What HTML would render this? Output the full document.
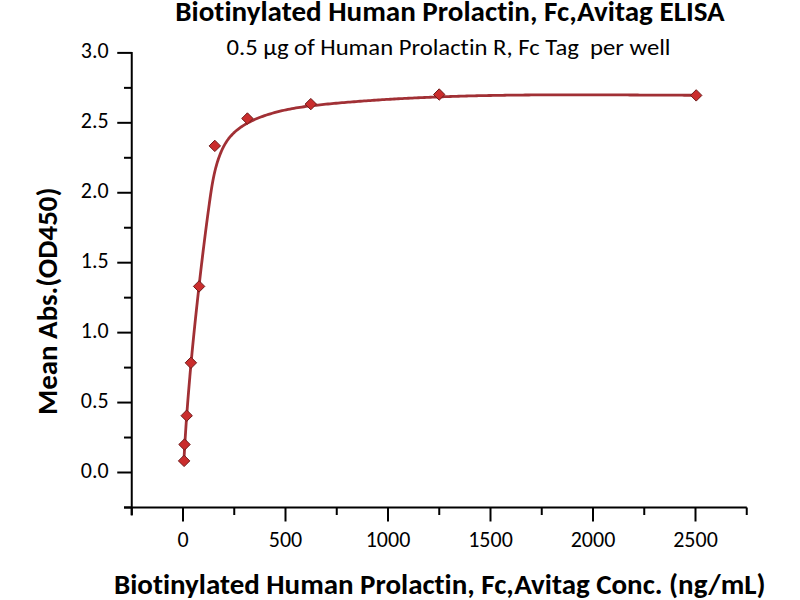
<!DOCTYPE html>
<html><head><meta charset="utf-8"><style>
html,body{margin:0;padding:0;background:#fff;width:800px;height:600px;overflow:hidden}
svg{display:block}
text{font-family:Carlito,"Liberation Sans",sans-serif;fill:#000;font-variant-ligatures:none;font-feature-settings:"liga" 0,"clig" 0;white-space:pre}
.b{font-weight:bold;font-size-adjust:cap-height 0.6484}
text:not(.b){font-size-adjust:cap-height 0.6416}
.ax line{stroke:#000;stroke-width:2;stroke-linecap:butt}
.mk{fill:#ca2d2d;stroke:#6e1a1a;stroke-width:1}
</style></head><body>
<svg width="800" height="600" viewBox="0 0 800 600">
<rect width="800" height="600" fill="#fff"/>
<text class="b" x="175.3" y="20.6" font-size="28" textLength="549.4" lengthAdjust="spacingAndGlyphs">Biotinylated Human Prolactin, Fc,Avitag ELISA</text>
<text x="226.5" y="54.8" font-size="23" textLength="444" lengthAdjust="spacingAndGlyphs">0.5 μg of Human Prolactin R, Fc Tag  per well</text>
<g class="ax"><line x1="131.75" y1="51.9" x2="131.75" y2="515.5"/><line x1="124" y1="507.5" x2="746.8" y2="507.5"/><line x1="124" y1="507.47" x2="131.75" y2="507.47"/><line x1="117.25" y1="472.50" x2="131.75" y2="472.50"/><line x1="124" y1="437.53" x2="131.75" y2="437.53"/><line x1="117.25" y1="402.56" x2="131.75" y2="402.56"/><line x1="124" y1="367.60" x2="131.75" y2="367.60"/><line x1="117.25" y1="332.63" x2="131.75" y2="332.63"/><line x1="124" y1="297.66" x2="131.75" y2="297.66"/><line x1="117.25" y1="262.69" x2="131.75" y2="262.69"/><line x1="124" y1="227.73" x2="131.75" y2="227.73"/><line x1="117.25" y1="192.76" x2="131.75" y2="192.76"/><line x1="124" y1="157.79" x2="131.75" y2="157.79"/><line x1="117.25" y1="122.82" x2="131.75" y2="122.82"/><line x1="124" y1="87.86" x2="131.75" y2="87.86"/><line x1="117.25" y1="52.89" x2="131.75" y2="52.89"/><line x1="131.75" y1="507.5" x2="131.75" y2="515"/><line x1="183.00" y1="507.5" x2="183.00" y2="521.5"/><line x1="234.25" y1="507.5" x2="234.25" y2="515"/><line x1="285.50" y1="507.5" x2="285.50" y2="521.5"/><line x1="336.75" y1="507.5" x2="336.75" y2="515"/><line x1="388.00" y1="507.5" x2="388.00" y2="521.5"/><line x1="439.25" y1="507.5" x2="439.25" y2="515"/><line x1="490.50" y1="507.5" x2="490.50" y2="521.5"/><line x1="541.75" y1="507.5" x2="541.75" y2="515"/><line x1="593.00" y1="507.5" x2="593.00" y2="521.5"/><line x1="644.25" y1="507.5" x2="644.25" y2="515"/><line x1="695.50" y1="507.5" x2="695.50" y2="521.5"/><line x1="746.75" y1="507.5" x2="746.75" y2="515"/></g>
<g font-size="22"><text x="108.7" y="477.90" text-anchor="end">0.0</text><text x="108.7" y="407.96" text-anchor="end">0.5</text><text x="108.7" y="338.03" text-anchor="end">1.0</text><text x="108.7" y="268.09" text-anchor="end">1.5</text><text x="108.7" y="198.16" text-anchor="end">2.0</text><text x="108.7" y="128.22" text-anchor="end">2.5</text><text x="108.7" y="58.29" text-anchor="end">3.0</text><text x="183.00" y="546.8" text-anchor="middle">0</text><text x="285.50" y="546.8" text-anchor="middle">500</text><text x="388.00" y="546.8" text-anchor="middle">1000</text><text x="490.50" y="546.8" text-anchor="middle">1500</text><text x="593.00" y="546.8" text-anchor="middle">2000</text><text x="695.50" y="546.8" text-anchor="middle">2500</text></g>
<text class="b" transform="translate(57,415) rotate(-90)" x="0" y="0" font-size="28" textLength="227.5" lengthAdjust="spacingAndGlyphs">Mean Abs.(OD450)</text>
<text class="b" x="114" y="594.3" font-size="28" textLength="651.5" lengthAdjust="spacingAndGlyphs">Biotinylated Human Prolactin, Fc,Avitag Conc. (ng/mL)</text>
<polyline points="183.92,460.51 184.02,458.52 184.13,456.52 184.24,454.52 184.35,452.52 184.46,450.52 184.57,448.52 184.69,446.51 184.81,444.51 184.93,442.51 185.05,440.51 185.17,438.50 185.30,436.50 185.43,434.49 185.56,432.49 185.69,430.48 185.82,428.48 185.96,426.47 186.09,424.47 186.23,422.46 186.37,420.45 186.51,418.45 186.66,416.44 186.80,414.43 186.95,412.42 187.10,410.41 187.25,408.41 187.40,406.40 187.56,404.39 187.71,402.38 187.87,400.37 188.03,398.36 188.19,396.35 188.35,394.34 188.52,392.33 188.68,390.32 188.85,388.31 189.02,386.30 189.19,384.29 189.36,382.28 189.53,380.27 189.71,378.26 189.88,376.25 190.06,374.24 190.24,372.23 190.42,370.22 190.60,368.21 190.78,366.20 190.97,364.19 191.15,362.19 191.34,360.18 191.53,358.17 191.72,356.16 191.91,354.15 192.10,352.14 192.29,350.13 192.49,348.13 192.68,346.12 192.88,344.11 193.08,342.10 193.28,340.10 193.48,338.09 193.68,336.08 193.88,334.08 194.09,332.07 194.29,330.07 194.50,328.06 194.70,326.06 194.91,324.05 195.12,322.05 195.33,320.05 195.54,318.05 195.75,316.04 195.97,314.04 196.18,312.04 196.40,310.04 196.61,308.04 196.83,306.04 197.05,304.04 197.27,302.04 197.48,300.05 197.71,298.05 197.93,296.05 198.15,294.06 198.37,292.06 198.59,290.07 198.82,288.08 199.04,286.08 199.27,284.09 199.50,282.10 199.72,280.11 199.95,278.12 200.18,276.13 200.41,274.14 200.64,272.15 200.87,270.16 201.11,268.17 201.34,266.18 201.57,264.20 201.81,262.21 202.05,260.22 202.28,258.23 202.52,256.24 202.76,254.25 203.01,252.27 203.25,250.28 203.49,248.29 203.74,246.30 203.98,244.31 204.23,242.32 204.48,240.33 204.73,238.33 204.98,236.34 205.24,234.35 205.49,232.35 205.75,230.36 206.01,228.36 206.27,226.37 206.53,224.37 206.79,222.37 207.06,220.37 207.32,218.37 207.59,216.37 207.86,214.36 208.13,212.36 208.40,210.35 208.68,208.34 208.95,206.33 209.23,204.32 209.51,202.31 209.80,200.29 210.08,198.28 210.37,196.26 210.66,194.24 210.96,192.22 211.27,190.20 211.59,188.19 211.91,186.17 212.25,184.16 212.61,182.15 212.98,180.15 213.37,178.15 213.78,176.16 214.20,174.17 214.65,172.19 215.13,170.21 215.62,168.25 216.15,166.29 216.70,164.34 217.28,162.40 217.90,160.48 218.54,158.56 219.22,156.66 219.94,154.77 220.70,152.89 221.49,151.03 222.33,149.19 223.21,147.39 224.14,145.61 225.13,143.88 226.16,142.18 227.26,140.54 228.41,138.95 229.62,137.42 230.89,135.94 232.21,134.51 233.58,133.13 235.01,131.81 236.48,130.53 238.00,129.30 239.56,128.11 241.16,126.97 242.79,125.88 244.47,124.83 246.18,123.81 247.92,122.84 249.69,121.91 251.48,121.01 253.30,120.15 255.14,119.33 257.01,118.53 258.89,117.77 260.78,117.04 262.69,116.34 264.61,115.67 266.53,115.02 268.47,114.40 270.40,113.81 272.34,113.23 274.29,112.69 276.24,112.16 278.20,111.65 280.16,111.17 282.12,110.71 284.09,110.26 286.06,109.84 288.03,109.43 290.00,109.04 291.98,108.67 293.97,108.31 295.95,107.97 297.94,107.64 299.93,107.33 301.92,107.03 303.92,106.74 305.92,106.47 307.91,106.20 309.91,105.95 311.92,105.70 313.92,105.47 315.92,105.24 317.93,105.02 319.94,104.81 321.94,104.60 323.95,104.40 325.96,104.20 327.97,104.01 329.98,103.82 331.99,103.63 334.00,103.44 336.01,103.26 338.02,103.08 340.03,102.90 342.03,102.73 344.04,102.56 346.05,102.39 348.06,102.22 350.07,102.05 352.08,101.89 354.09,101.73 356.10,101.57 358.11,101.42 360.12,101.26 362.13,101.11 364.14,100.96 366.15,100.82 368.16,100.67 370.17,100.53 372.18,100.39 374.19,100.25 376.20,100.12 378.21,99.98 380.22,99.85 382.23,99.72 384.24,99.60 386.25,99.47 388.26,99.35 390.27,99.23 392.28,99.11 394.29,98.99 396.30,98.88 398.31,98.77 400.32,98.66 402.33,98.55 404.34,98.44 406.35,98.34 408.36,98.23 410.37,98.13 412.38,98.03 414.39,97.94 416.40,97.84 418.41,97.75 420.42,97.66 422.43,97.57 424.44,97.48 426.45,97.39 428.46,97.31 430.47,97.23 432.48,97.14 434.49,97.07 436.50,96.99 438.51,96.91 440.53,96.84 442.54,96.77 444.55,96.69 446.56,96.63 448.57,96.56 450.58,96.49 452.59,96.43 454.60,96.36 456.61,96.30 458.62,96.24 460.64,96.18 462.65,96.13 464.66,96.07 466.67,96.02 468.68,95.97 470.69,95.91 472.70,95.87 474.71,95.82 476.73,95.77 478.74,95.72 480.75,95.68 482.76,95.64 484.77,95.60 486.78,95.56 488.80,95.52 490.81,95.48 492.82,95.44 494.83,95.41 496.84,95.37 498.85,95.34 500.87,95.31 502.88,95.28 504.89,95.25 506.90,95.22 508.91,95.19 510.93,95.17 512.94,95.14 514.95,95.12 516.96,95.09 518.98,95.07 520.99,95.05 523.00,95.03 525.01,95.01 527.02,94.99 529.04,94.98 531.05,94.96 533.06,94.95 535.08,94.93 537.09,94.92 539.10,94.91 541.11,94.89 543.13,94.88 545.14,94.87 547.15,94.86 549.16,94.86 551.18,94.85 553.19,94.84 555.20,94.84 557.22,94.83 559.23,94.83 561.24,94.82 563.26,94.82 565.27,94.82 567.28,94.81 569.30,94.81 571.31,94.81 573.32,94.81 575.34,94.81 577.35,94.81 579.36,94.81 581.38,94.82 583.39,94.82 585.40,94.82 587.42,94.82 589.43,94.83 591.45,94.83 593.46,94.84 595.47,94.84 597.49,94.85 599.50,94.85 601.52,94.86 603.53,94.87 605.54,94.87 607.56,94.88 609.57,94.89 611.59,94.90 613.60,94.90 615.62,94.91 617.63,94.92 619.65,94.93 621.66,94.94 623.67,94.95 625.69,94.96 627.70,94.97 629.72,94.98 631.73,94.99 633.75,95.00 635.76,95.01 637.78,95.02 639.79,95.03 641.81,95.04 643.82,95.05 645.84,95.06 647.85,95.07 649.87,95.08 651.89,95.09 653.90,95.10 655.92,95.11 657.93,95.12 659.95,95.13 661.96,95.14 663.98,95.15 665.99,95.16 668.01,95.17 670.03,95.17 672.04,95.18 674.06,95.19 676.07,95.20 678.09,95.21 680.11,95.22 682.12,95.22 684.14,95.23 686.15,95.24 688.17,95.24 690.19,95.25 692.20,95.26 694.22,95.26 696.24,95.27" fill="none" stroke="#a13035" stroke-width="2.8" stroke-linejoin="round"/>
<path class="mk" d="M696.20,89.70L701.90,95.40L696.20,101.10L690.50,95.40Z"/><path class="mk" d="M439.20,88.80L444.90,94.50L439.20,100.20L433.50,94.50Z"/><path class="mk" d="M310.80,98.40L316.50,104.10L310.80,109.80L305.10,104.10Z"/><path class="mk" d="M247.40,112.80L253.10,118.50L247.40,124.20L241.70,118.50Z"/><path class="mk" d="M214.80,140.20L220.50,145.90L214.80,151.60L209.10,145.90Z"/><path class="mk" d="M199.10,280.70L204.80,286.40L199.10,292.10L193.40,286.40Z"/><path class="mk" d="M190.90,357.10L196.60,362.80L190.90,368.50L185.20,362.80Z"/><path class="mk" d="M186.70,410.00L192.40,415.70L186.70,421.40L181.00,415.70Z"/><path class="mk" d="M184.50,438.80L190.20,444.50L184.50,450.20L178.80,444.50Z"/><path class="mk" d="M184.10,455.20L189.80,460.90L184.10,466.60L178.40,460.90Z"/>
</svg>
</body></html>
